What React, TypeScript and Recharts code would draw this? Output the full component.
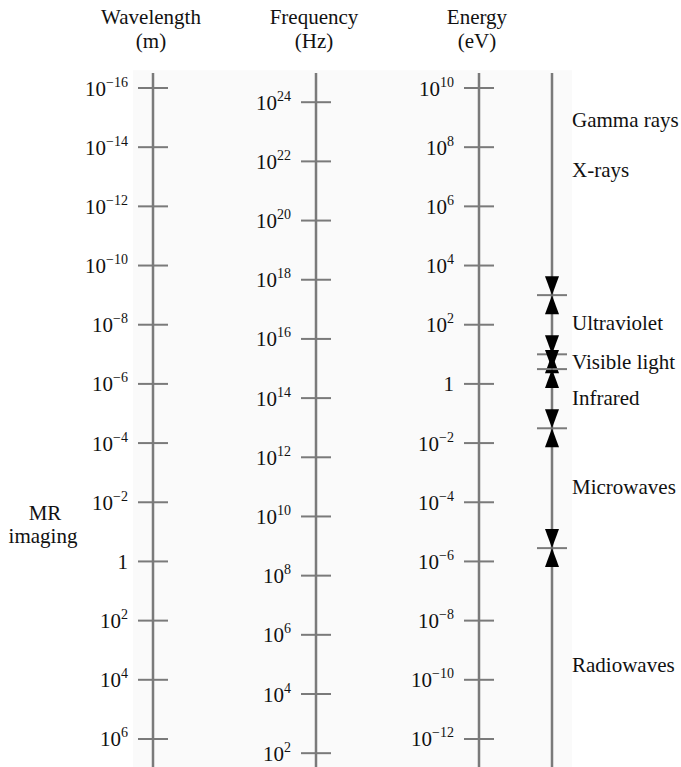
import React from 'react';
import {
  ScatterChart,
  Scatter,
  XAxis,
  YAxis,
  ReferenceLine,
  ReferenceArea,
  Customized,
} from 'recharts';

// exponents of the tick labels, top to bottom
const wavelengthExp = [-16, -14, -12, -10, -8, -6, -4, -2, 0, 2, 4, 6];
const frequencyExp = [24, 22, 20, 18, 16, 14, 12, 10, 8, 6, 4, 2];
const energyExp = [10, 8, 6, 4, 2, 0, -2, -4, -6, -8, -10, -12];

// band boundaries, log10 of wavelength (m)
const bandEdges = [-9, -7, -6.5, -4.5, -0.45];

// band names and where they sit, log10 of wavelength (m)
const bandNames = ['Gamma rays', 'X-rays', 'Ultraviolet', 'Visible light', 'Infrared', 'Microwaves', 'Radiowaves'];
const bandNameAt = [-14.68, -12.99, -7.82, -6.5, -5.29, -2.28, 3.74];

const titles = [
  ['Wavelength', '(m)'],
  ['Frequency', '(Hz)'],
  ['Energy', '(eV)'],
];

const LOG_C = 8.48; // log10 of speed of light, m/s
const LOG_HC = -6; // log10 of hc in eV·m, as drawn

const W = 681;
const H = 767;
const TOP = -18.974;
const BOTTOM = 6.947;
const LINE_TOP = -16.507;
const COLS = [153, 316, 479, 552];
const FONT = "'Liberation Serif', 'DejaVu Serif', serif";
const GREY = '#7a7a7a';
const txt = { fontFamily: FONT };

const wavelengthPts = wavelengthExp.map((e) => ({ x: COLS[0], y: e, e }));
const frequencyPts = frequencyExp.map((e) => ({ x: COLS[1], y: LOG_C - e, e }));
const energyPts = energyExp.map((e) => ({ x: COLS[2], y: LOG_HC - e, e }));
const edgePts = bandEdges.map((v) => ({ x: COLS[3], y: v }));
const namePts = bandNames.map((name, i) => ({ x: COLS[3], y: bandNameAt[i], name }));

const minus = (n: number) => (n < 0 ? '\u2212' + Math.abs(n) : String(n));

const TickShape = (props: any) => {
  const { cx, cy, payload } = props;
  const e = payload.e;
  return (
    <g>
      <line x1={cx - 15} x2={cx + 15} y1={cy} y2={cy} stroke={GREY} strokeWidth={2} />
      <text x={cx - 25} y={cy + 7.5} textAnchor="end" style={txt} fontSize={21} fill="#111">
        {e === 0 ? (
          '1'
        ) : (
          <>
            <tspan>10</tspan>
            <tspan dy={-9} fontSize={14}>
              {minus(e)}
            </tspan>
          </>
        )}
      </text>
    </g>
  );
};

const EdgeShape = (props: any) => {
  const { cx, cy } = props;
  const h = 19;
  const w = 7;
  return (
    <g>
      <line x1={cx - 15} x2={cx + 15} y1={cy} y2={cy} stroke={GREY} strokeWidth={2} />
      <polygon points={`${cx - w},${cy - h} ${cx + w},${cy - h} ${cx},${cy}`} fill="#000" />
      <polygon points={`${cx - w},${cy + h} ${cx + w},${cy + h} ${cx},${cy}`} fill="#000" />
    </g>
  );
};

const NameShape = (props: any) => {
  const { cx, cy, payload } = props;
  return (
    <text x={cx + 20} y={cy} style={txt} fontSize={21} fill="#111">
      {payload.name}
    </text>
  );
};

const Titles = () => (
  <g style={txt} fontSize={21} fill="#111" textAnchor="middle">
    {titles.map((t, i) => (
      <g key={t[0]}>
        <text x={COLS[i] - 2} y={24} style={txt}>
          {t[0]}
        </text>
        <text x={COLS[i] - 2} y={48} style={txt}>
          {t[1]}
        </text>
      </g>
    ))}
    <text x={45} y={520} style={txt}>
      MR
    </text>
    <text x={43} y={543} style={txt}>
      imaging
    </text>
  </g>
);

export default function App() {
  return (
    <div style={{ position: 'absolute', left: 0, top: 0, width: W, height: H, background: '#fff' }}>
      <ScatterChart width={W} height={H} margin={{ top: 0, right: 0, bottom: 0, left: 0 }}>
        <XAxis type="number" dataKey="x" domain={[0, W]} hide />
        <YAxis type="number" dataKey="y" domain={[TOP, BOTTOM]} reversed hide allowDataOverflow />
        <ReferenceArea x1={133} x2={572} y1={-16.6} y2={BOTTOM} fill="#fafafa" fillOpacity={1} stroke="none" />
        {COLS.map((x) => (
          <ReferenceLine
            key={x}
            segment={[
              { x, y: LINE_TOP },
              { x, y: BOTTOM },
            ]}
            stroke={GREY}
            strokeWidth={2.5}
          />
        ))}
        <Scatter data={wavelengthPts} shape={TickShape} isAnimationActive={false} />
        <Scatter data={frequencyPts} shape={TickShape} isAnimationActive={false} />
        <Scatter data={energyPts} shape={TickShape} isAnimationActive={false} />
        <Scatter data={edgePts} shape={EdgeShape} isAnimationActive={false} />
        <Scatter data={namePts} shape={NameShape} isAnimationActive={false} />
        <Customized component={Titles} />
      </ScatterChart>
    </div>
  );
}
